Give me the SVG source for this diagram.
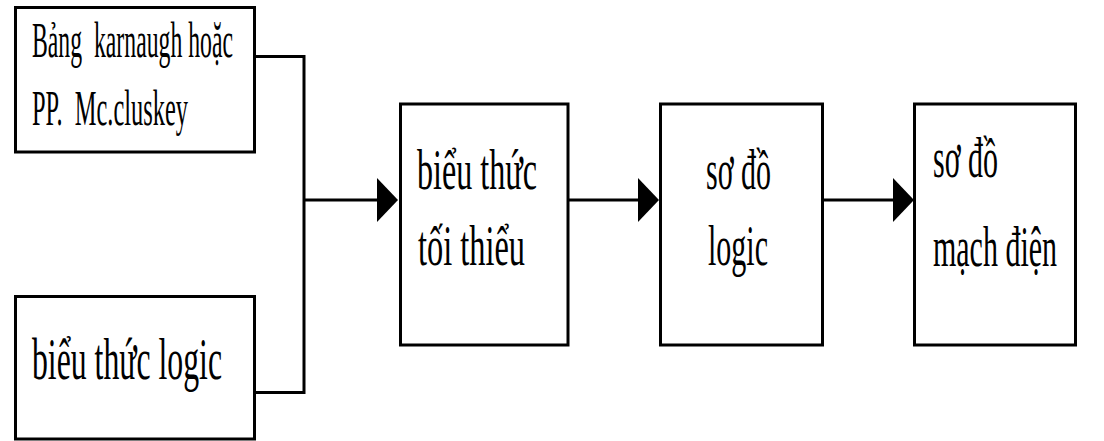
<svg xmlns="http://www.w3.org/2000/svg" width="1104" height="441" viewBox="0 0 1104 441">
  <style>
    .box { fill: #fff; stroke: #000; stroke-width: 3; }
    .wire { fill: none; stroke: #000; stroke-width: 3; }
    .lbl { font-family: "Liberation Serif", "Times New Roman", serif; fill: #000; white-space: pre; }
    .s50 { font-size: 50px; }
    .s60 { font-size: 60px; }
    .s56 { font-size: 56px; }
  </style>
  <defs>
    <marker id="head" markerUnits="userSpaceOnUse" markerWidth="22" markerHeight="46" refX="0" refY="22" orient="auto" overflow="visible">
      <path d="M0,0 L21,22 L0,44 Z" fill="#000"/>
    </marker>
  </defs>
  <rect width="1104" height="441" fill="#fff"/>

  <!-- connectors -->
  <g id="connectors">
    <polyline class="wire" points="255,56.5 304,56.5 304,392.5 255,392.5"/>
    <line class="wire" x1="304" y1="200" x2="377" y2="200" marker-end="url(#head)"/>
    <line class="wire" x1="568" y1="200" x2="638" y2="200" marker-end="url(#head)"/>
    <line class="wire" x1="822" y1="200" x2="893" y2="200" marker-end="url(#head)"/>
  </g>

  <!-- input: Karnaugh map / Quine-McCluskey -->
  <g id="node-karnaugh">
    <rect class="box" x="15.5" y="7.5" width="239" height="144.5"/>
    <text class="lbl s50" x="32" y="57" textLength="201" lengthAdjust="spacingAndGlyphs">Bảng  karnaugh hoặc</text>
    <text class="lbl s50" x="32" y="125" textLength="156" lengthAdjust="spacingAndGlyphs">PP.  Mc.cluskey</text>
  </g>

  <!-- input: logic expression -->
  <g id="node-bieuthuc">
    <rect class="box" x="15.5" y="296.5" width="239" height="142.5"/>
    <text class="lbl s60" x="32" y="379" textLength="190" lengthAdjust="spacingAndGlyphs">biểu thức logic</text>
  </g>

  <!-- minimal expression -->
  <g id="node-toithieu">
    <rect class="box" x="400.5" y="104" width="167.5" height="241"/>
    <text class="lbl s56" x="417" y="189" textLength="120" lengthAdjust="spacingAndGlyphs">biểu thức</text>
    <text class="lbl s56" x="418" y="265" textLength="107" lengthAdjust="spacingAndGlyphs">tối thiểu</text>
  </g>

  <!-- logic diagram -->
  <g id="node-sodologic">
    <rect class="box" x="660.5" y="104" width="162" height="241"/>
    <text class="lbl s56" x="706" y="189" textLength="65" lengthAdjust="spacingAndGlyphs">sơ đồ</text>
    <text class="lbl s56" x="708" y="265" textLength="60" lengthAdjust="spacingAndGlyphs">logic</text>
  </g>

  <!-- circuit diagram -->
  <g id="node-machdien">
    <rect class="box" x="914.5" y="104" width="161" height="241"/>
    <text class="lbl s56" x="933" y="177" textLength="65" lengthAdjust="spacingAndGlyphs">sơ đồ</text>
    <text class="lbl s56" x="933" y="266" textLength="124" lengthAdjust="spacingAndGlyphs">mạch điện</text>
  </g>
</svg>
